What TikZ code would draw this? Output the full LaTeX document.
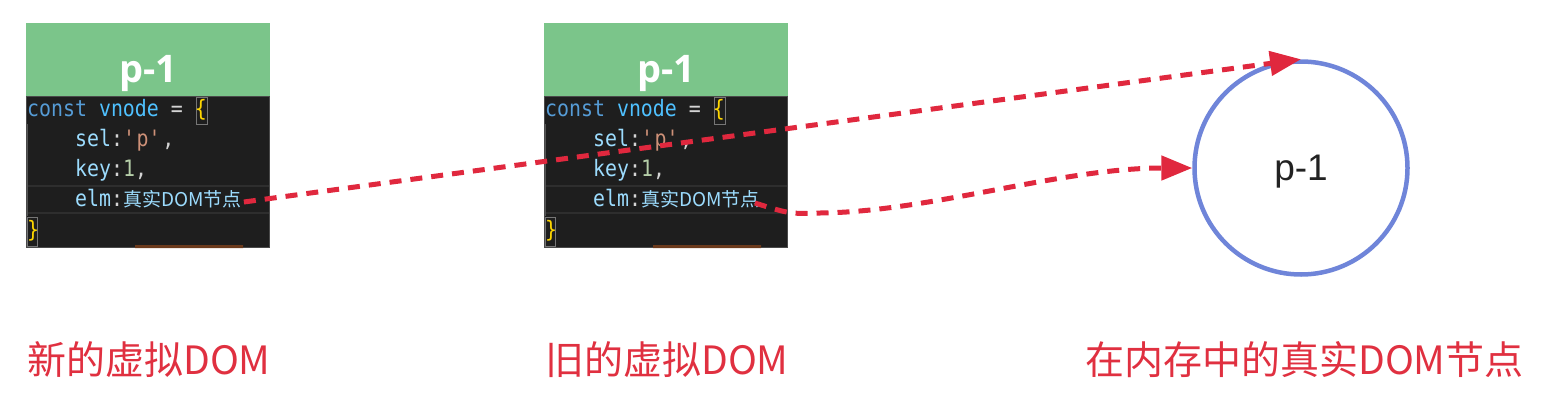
\documentclass[tikz,border=0pt]{standalone}
\usepackage{fontspec}
\usetikzlibrary{arrows.meta}
\newfontfamily\cjk{Noto Sans CJK SC}
\newfontfamily\codefont[FakeStretch=0.88]{DejaVu Sans Mono}
\newfontfamily\headfont{Open Sans}
\newfontfamily\domfont{Liberation Sans}
\definecolor{headgreen}{HTML}{7BC58A}
\definecolor{codebg}{HTML}{1E1E1E}
\definecolor{panelrim}{HTML}{4A4A4A}
\definecolor{keyword}{HTML}{569CD6}
\definecolor{varname}{HTML}{4FC1FF}
\definecolor{plain}{HTML}{D4D4D4}
\definecolor{bracecol}{HTML}{FFD700}
\definecolor{strcol}{HTML}{CE9178}
\definecolor{numcol}{HTML}{B5CEA8}
\definecolor{codeblue}{HTML}{9CDCFE}
\definecolor{bandgrey}{HTML}{2E2E2E}
\definecolor{guidegrey}{HTML}{555555}
\definecolor{matchgrey}{HTML}{767676}
\definecolor{scrollbrown}{HTML}{6B3A1C}
\definecolor{circleblue}{HTML}{6F85D9}
\definecolor{arrowred}{HTML}{E0283E}
\definecolor{labelred}{HTML}{E03040}
\definecolor{darktext}{HTML}{222222}

\begin{document}
\begin{tikzpicture}[x=1pt,y=-1pt]
   \tikzstyle{headbar} = [rectangle, fill=headgreen, minimum width=244pt, minimum height=73pt, inner sep=0pt, text height=45pt, text depth=0pt, text=white, font=\headfont\bfseries\fontsize{38pt}{40pt}\selectfont]
   \tikzstyle{panel} = [rectangle, fill=codebg, draw=panelrim, line width=1pt, minimum width=243pt, minimum height=151pt, inner sep=0pt]
   \tikzstyle{codetext} = [anchor=west, inner sep=0pt, text height=17pt, text depth=5pt, text=codeblue, font=\codefont\fontsize{22.6pt}{26pt}\selectfont]
   \tikzstyle{caption} = [anchor=west, inner sep=0pt, text=labelred, font=\cjk\fontsize{39pt}{41pt}\selectfont]
   \tikzstyle{realdom} = [circle, draw=circleblue, line width=4.5pt, minimum size=213pt, inner sep=0pt, text height=24pt, text depth=0pt, text=darktext, font=\domfont\fontsize{37pt}{39pt}\selectfont]
   \tikzstyle{domlink} = [draw=arrowred, line width=5pt, dash pattern=on 12pt off 9pt, -{Triangle[length=31pt,width=24pt]}]

   \useasboundingbox (0,0) rectangle (1544,402);

      \draw
        (148,172) node[panel] (newpanel){}
        (148,59.5) node[headbar] (newhead){p-1}
        (666,172) node[panel] (oldpanel){}
        (666,59.5) node[headbar] (oldhead){p-1};

      % editor marks
      \draw[bandgrey, line width=1.5pt] (27,186) -- (269,186) (27,213) -- (269,213)
                                        (545,186) -- (787,186) (545,213) -- (787,213);
      \draw[guidegrey, line width=1pt] (27,124) -- (27,216) (545,124) -- (545,216);
      \draw[matchgrey, line width=1pt] (196,97) rectangle (207,124) (27,217) rectangle (37,246)
                                       (714,97) rectangle (725,124) (545,217) rectangle (555,246);
      \fill[scrollbrown] (135,245) rectangle (243,248) (653,245) rectangle (761,248);

      \draw
        (27,110) node[codetext] (newl1){\textcolor{keyword}{const} \textcolor{varname}{vnode} \textcolor{plain}{=} \textcolor{bracecol}{\{}}
        (75,140) node[codetext] (newl2){sel\textcolor{plain}{:}\textcolor{strcol}{\textquotesingle p\textquotesingle}\textcolor{plain}{,}}
        (75,170) node[codetext] (newl3){key\textcolor{plain}{:}\textcolor{numcol}{1}\textcolor{plain}{,}}
        (75,200) node[codetext] (newl4){elm\textcolor{plain}{:}{\cjk\fontsize{19pt}{22pt}\selectfont 真实DOM节点}}
        (27,231) node[codetext] (newl5){\textcolor{bracecol}{\}}}
        (545,110) node[codetext] (oldl1){\textcolor{keyword}{const} \textcolor{varname}{vnode} \textcolor{plain}{=} \textcolor{bracecol}{\{}}
        (593,140) node[codetext] (oldl2){sel\textcolor{plain}{:}\textcolor{strcol}{\textquotesingle p\textquotesingle}\textcolor{plain}{,}}
        (593,170) node[codetext] (oldl3){key\textcolor{plain}{:}\textcolor{numcol}{1}\textcolor{plain}{,}}
        (593,200) node[codetext] (oldl4){elm\textcolor{plain}{:}{\cjk\fontsize{19pt}{22pt}\selectfont 真实DOM节点}}
        (545,231) node[codetext] (oldl5){\textcolor{bracecol}{\}}}
        (1301,168) node[realdom] (real){p-1}
        (27,360) node[caption] (newcap){新的虚拟DOM}
        (545,360) node[caption] (oldcap){旧的虚拟DOM}
        (1085,360) node[caption] (realcap){在内存中的真实DOM节点};

  \begin{scope}
    \draw[domlink] ([xshift=2pt,yshift=-2pt]newl4.east) to (real.north);
    \draw[domlink] ([xshift=-5pt,yshift=-3pt]oldl4.east) .. controls (790,214) .. (820,213)
                   .. controls (930,212) and (1060,168) .. (real.west);
  \end{scope}
\end{tikzpicture}
\end{document}
